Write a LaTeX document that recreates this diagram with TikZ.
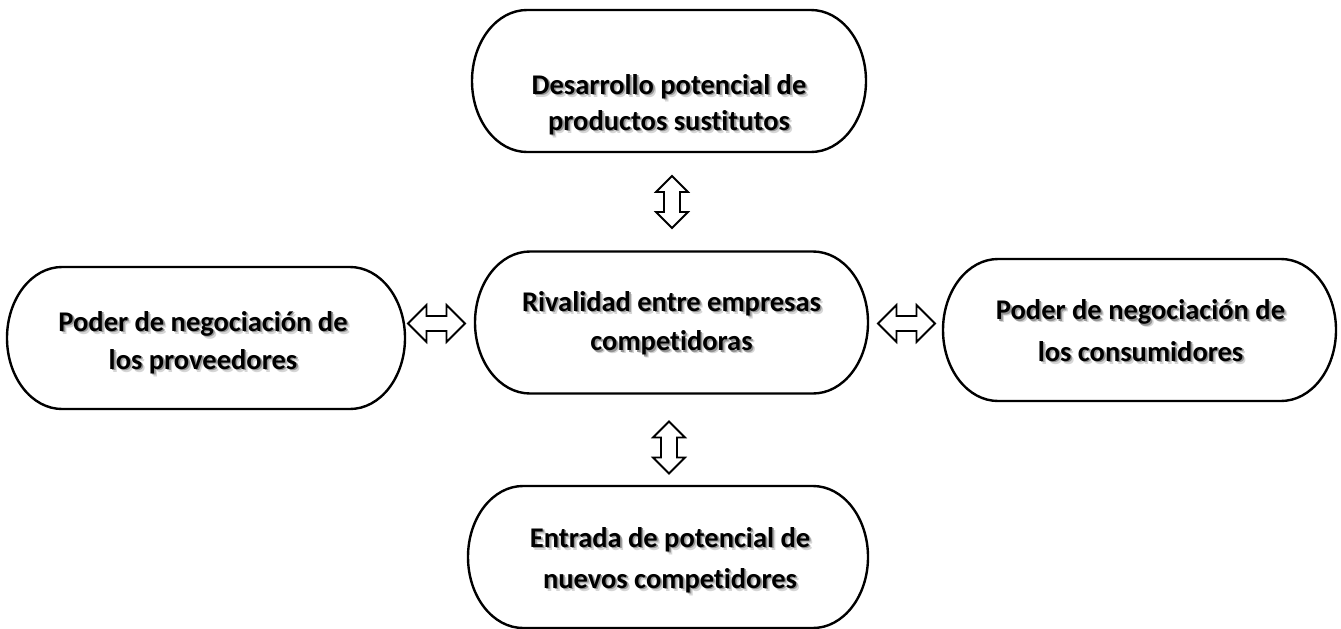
\documentclass[tikz,border=0pt]{standalone}
\usepackage{fontspec}
\setmainfont{Carlito}[Ligatures=NoCommon]
\begin{document}
\begin{tikzpicture}[x=1pt,y=1pt,
  boxline/.style={line width=2.4pt},
  arrowline/.style={line width=1.8pt, line join=miter, fill=white},
  stadbox/.style={rectangle, draw=none, inner sep=0pt, outer sep=0pt, minimum width=#1, minimum height=142pt},
  lbl/.style={anchor=base, font=\fontsize{28.5}{34}\selectfont\bfseries, inner sep=0pt},
  harrow/.pic={\draw[arrowline] (-28.5,0) -- (-10,18.5) -- (-10,7.5) -- (10,7.5) -- (10,18.5) -- (28.5,0) -- (10,-18.5) -- (10,-7.5) -- (-10,-7.5) -- (-10,-18.5) -- cycle;},
  varrow/.pic={\draw[arrowline] (0,-26) -- (16,-10) -- (8,-10) -- (8,10) -- (16,10) -- (0,26) -- (-16,10) -- (-8,10) -- (-8,-10) -- (-16,-10) -- cycle;}
]
\useasboundingbox (0,0) rectangle (1341,-629);
\newcommand\stadium[1]{\draw[boxline] ([xshift=55pt]#1.north west) -- ([xshift=-55pt]#1.north east) arc[start angle=90,end angle=-90,x radius=55pt,y radius=71pt] -- ([xshift=55pt]#1.south west) arc[start angle=270,end angle=90,x radius=55pt,y radius=71pt] -- cycle;}
% #1 name, #2 box node, #3 dx, #4 dy (baseline offset from box centre), #5 text
\newcommand\shadowtext[5]{%
  \node[lbl, text=black!16] at ([xshift=#3+3pt,yshift=#4-3pt]#2.center) {#5};
  \node[lbl, text=black!42] at ([xshift=#3+1.6pt,yshift=#4-1.6pt]#2.center) {#5};
  \node[lbl] (#1) at ([xshift=#3,yshift=#4]#2.center) {#5};}

% boxes
\node[stadbox=394pt] (top) at (669,-81) {};
\node[stadbox=393pt] (mid) at (671.5,-322.5) {};
\node[stadbox=398pt] (left) at (206,-338) {};
\node[stadbox=393pt] (right) at (1139.5,-330) {};
\node[stadbox=400pt] (bot) at (668,-557) {};
\stadium{top}
\stadium{mid}
\stadium{left}
\stadium{right}
\stadium{bot}

% texts (one node per printed line)
\shadowtext{topA}{top}{0pt}{-13pt}{Desarrollo potencial de}
\shadowtext{topB}{top}{0pt}{-49pt}{productos sustitutos}
\shadowtext{midA}{mid}{0pt}{11.5pt}{Rivalidad entre empresas}
\shadowtext{midB}{mid}{0pt}{-28pt}{competidoras}
\shadowtext{leftA}{left}{-3pt}{7pt}{Poder de negociación de}
\shadowtext{leftB}{left}{-3pt}{-31pt}{los proveedores}
\shadowtext{rightA}{right}{1pt}{10.5pt}{Poder de negociación de}
\shadowtext{rightB}{right}{1pt}{-31pt}{los consumidores}
\shadowtext{botA}{bot}{2pt}{10pt}{Entrada de potencial de}
\shadowtext{botB}{bot}{2pt}{-31pt}{nuevos competidores}

% hollow double arrows
\coordinate (a1) at (672,-202);
\coordinate (a2) at (669,-447.5);
\coordinate (a3) at (436.5,-323.5);
\coordinate (a4) at (906.5,-323.5);
\pic at (a1) {varrow};
\pic at (a2) {varrow};
\pic at (a3) {harrow};
\pic at (a4) {harrow};
\end{tikzpicture}
\end{document}
